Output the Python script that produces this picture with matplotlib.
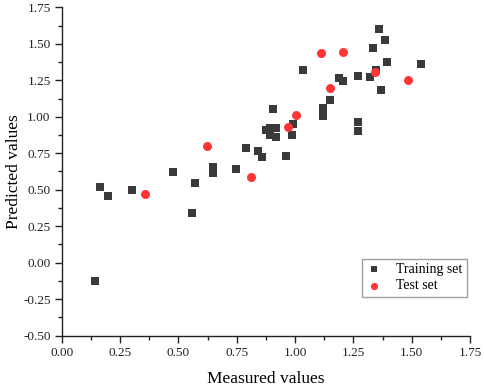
import matplotlib
matplotlib.use("Agg")
import matplotlib.pyplot as plt
from matplotlib.ticker import MultipleLocator, FormatStrFormatter

plt.rcParams['font.family'] = ['Liberation Serif', 'DejaVu Serif']

train_x = [0.143, 0.164, 0.197, 0.303, 0.476, 0.560, 0.570, 0.647, 0.647, 0.748,
           0.790, 0.840, 0.860, 0.857, 0.877, 0.892, 0.918, 0.892, 0.918, 0.904,
           0.960, 0.987, 0.991, 1.033, 1.121, 1.121, 1.150, 1.189, 1.207, 1.269,
           1.269, 1.269, 1.321, 1.334, 1.347, 1.360, 1.367, 1.384, 1.396, 1.540]
train_y = [-0.125, 0.516, 0.455, 0.498, 0.619, 0.340, 0.546, 0.653, 0.616, 0.642,
           0.786, 0.767, 0.724, 0.726, 0.909, 0.920, 0.920, 0.875, 0.859, 1.051,
           0.731, 0.877, 0.952, 1.318, 1.057, 1.007, 1.116, 1.263, 1.247, 1.277,
           0.964, 0.900, 1.272, 1.473, 1.318, 1.603, 1.183, 1.527, 1.375, 1.363]

test_x = [0.358, 0.624, 0.813, 0.969, 1.004, 1.111, 1.149, 1.207, 1.343, 1.483]
test_y = [0.473, 0.799, 0.589, 0.931, 1.012, 1.438, 1.199, 1.445, 1.304, 1.251]

x_label = "Measured values"
y_label = "Predicted values"
legend_labels = ["Training set", "Test set"]

fig = plt.figure(figsize=(4.84, 3.88), dpi=100)
ax = fig.add_axes([61.7/484, 1-335.7/388, (470-61.7)/484, (335.7-7.3)/388])

ax.scatter(train_x, train_y, marker='s', s=34, color='#3a3a3a', linewidths=0,
           label=legend_labels[0], zorder=3)
ax.scatter(test_x, test_y, marker='o', s=42, color='#ff3535', linewidths=0,
           label=legend_labels[1], zorder=4)

ax.set_xlim(0, 1.75)
ax.set_ylim(-0.5, 1.75)
ax.xaxis.set_major_locator(MultipleLocator(0.25))
ax.yaxis.set_major_locator(MultipleLocator(0.25))
ax.xaxis.set_minor_locator(MultipleLocator(0.125))
ax.yaxis.set_minor_locator(MultipleLocator(0.125))
ax.xaxis.set_major_formatter(FormatStrFormatter('%.2f'))
ax.yaxis.set_major_formatter(FormatStrFormatter('%.2f'))

ax.spines['top'].set_visible(False)
ax.spines['right'].set_visible(False)
for sp in ['left', 'bottom']:
    ax.spines[sp].set_linewidth(1.0)
    ax.spines[sp].set_color('#222222')

ax.tick_params(which='major', direction='out', length=5, width=1.0,
               labelsize=9.5, colors='#222222', pad=3)
ax.tick_params(which='minor', direction='out', length=3, width=1.0, colors='#222222')

ax.set_xlabel(x_label, fontsize=12.5, labelpad=9)
ax.set_ylabel(y_label, fontsize=12.5, labelpad=1)

leg = ax.legend(loc='lower right', bbox_to_anchor=(0.992, 0.119), borderaxespad=0,
                fontsize=10, frameon=True, fancybox=False, edgecolor='#888888',
                handletextpad=1.0, labelspacing=0.25, borderpad=0.3,
                markerscale=0.8, handlelength=1.2)
leg.get_frame().set_linewidth(1.0)

fig.savefig('out.png', dpi=100)
